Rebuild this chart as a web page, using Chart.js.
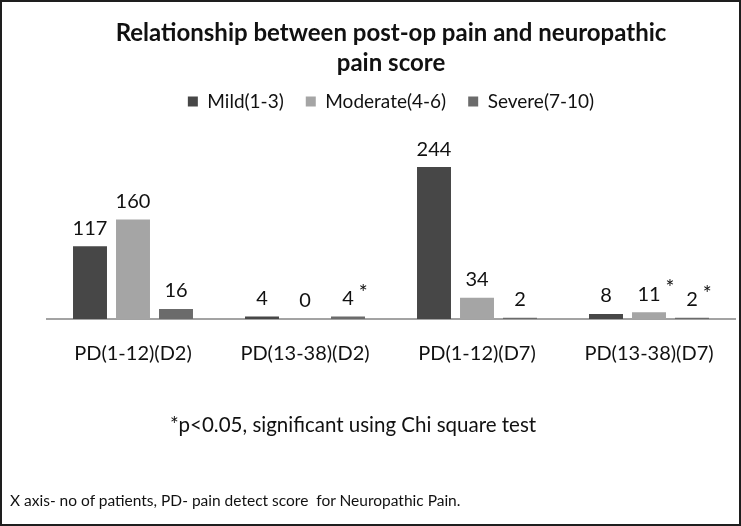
<!DOCTYPE html>
<html>
<head>
<meta charset="utf-8">
<title>Post-op pain vs neuropathic pain score</title>
<script src="https://cdn.jsdelivr.net/npm/chart.js@4.4.1/dist/chart.umd.min.js"></script>
<style>
    body { margin: 0; background: #fff; }
    #wrap { position: relative; width: 741px; height: 526px; }
    #frame {
        position: absolute; left: 0; top: 0; width: 741px; height: 526px;
        box-sizing: border-box; border: 2px solid #1e1e1e; pointer-events: none;
    }
    .note { position: absolute; font-family: Lato, sans-serif; color: #111; white-space: nowrap; }
    #sig { left: 0; width: 706px; text-align: center; top: 412px; font-size: 20.5px; }
    #xnote { left: 10px; top: 491px; font-size: 15.5px; }
</style>
</head>
<body>
<div id="wrap">
    <canvas id="painChart" width="741" height="526"></canvas>
    <div class="note" id="sig">*p&lt;0.05, significant using Chi square test</div>
    <div class="note" id="xnote">X axis- no of patients, PD- pain detect score&nbsp; for Neuropathic Pain.</div>
    <div id="frame"></div>
</div>
<script>
const categories = ['PD(1-12)(D2)', 'PD(13-38)(D2)', 'PD(1-12)(D7)', 'PD(13-38)(D7)'];
const mildValues = [117, 4, 244, 8];
const moderateValues = [160, 0, 34, 11];
const severeValues = [16, 4, 2, 2];
// 1 = marked with * (p<0.05)
const mildSig = [0, 0, 0, 0];
const moderateSig = [0, 0, 0, 1];
const severeSig = [0, 1, 0, 1];

const FONT = 'Lato, sans-serif';

// value labels above bars, with the significance star
const valueLabels = {
    id: 'valueLabels',
    afterDatasetsDraw(chart) {
        const ctx = chart.ctx;
        ctx.save();
        chart.data.datasets.forEach((ds, i) => {
            const meta = chart.getDatasetMeta(i);
            meta.data.forEach((bar, j) => {
                const txt = String(ds.data[j]);
                ctx.font = `20px ${FONT}`;
                ctx.fillStyle = '#111';
                ctx.textAlign = 'center';
                ctx.textBaseline = 'bottom';
                const y = bar.y - 8;
                ctx.fillText(txt, bar.x, y);
                if (ds.sig[j]) {
                    const w = ctx.measureText(txt).width;
                    ctx.font = `21px ${FONT}`;
                    ctx.textAlign = 'left';
                    ctx.fillText('*', bar.x + w / 2 + 5, y - 5);
                }
            });
        });
        ctx.restore();
    }
};

const ctx = document.getElementById('painChart').getContext('2d');
new Chart(ctx, {
    type: 'bar',
    data: {
        labels: categories,
        datasets: [
            { label: 'Mild(1-3)', data: mildValues, sig: mildSig, backgroundColor: '#474747' },
            { label: 'Moderate(4-6)', data: moderateValues, sig: moderateSig, backgroundColor: '#a5a5a5' },
            { label: 'Severe(7-10)', data: severeValues, sig: severeSig, backgroundColor: '#6b6b6b' }
        ]
    },
    options: {
        responsive: false,
        animation: false,
        layout: { padding: { left: 47, right: 6, top: 0, bottom: 160 } },
        datasets: { bar: { categoryPercentage: 0.75, barPercentage: 0.79 } },
        plugins: {
            title: {
                display: true,
                text: ['Relationship between post-op pain and neuropathic', 'pain score'],
                color: '#111',
                font: { family: FONT, size: 24, weight: 'bold', lineHeight: 1.25 },
                padding: { top: 18, bottom: -8 }
            },
            legend: {
                display: true,
                labels: {
                    color: '#111',
                    font: { family: FONT, size: 19 },
                    boxWidth: 10,
                    boxHeight: 10,
                    padding: 22
                }
            },
            tooltip: { enabled: false }
        },
        scales: {
            x: {
                grid: { display: false },
                border: { display: true, color: '#a3a3a3', width: 2 },
                ticks: { color: '#111', font: { family: FONT, size: 20 }, padding: 15 },
                afterFit(scale) { scale.height = 47; }
            },
            y: {
                display: false,
                min: 0,
                max: 318
            }
        }
    },
    plugins: [valueLabels]
});
</script>
</body>
</html>
